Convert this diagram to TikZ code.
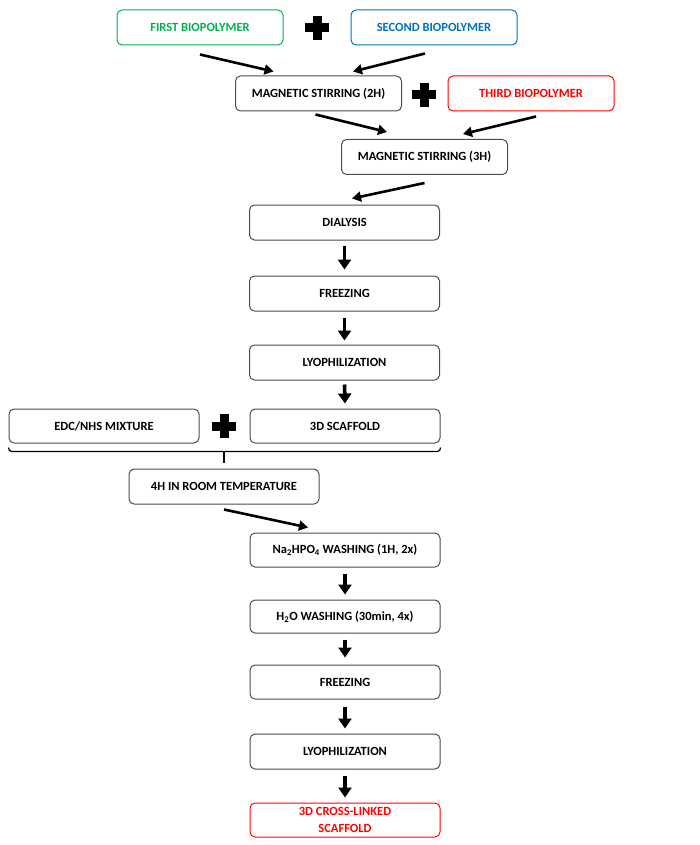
\documentclass[tikz,border=0pt]{standalone}
\usepackage{fontspec}
\setmainfont{Carlito}
\usetikzlibrary{positioning,arrows.meta}
\definecolor{bpgreen}{RGB}{0,176,80}
\definecolor{bpblue}{RGB}{0,112,192}
\definecolor{bpred}{RGB}{255,0,0}
\tikzset{
stepbox/.style={
  draw=black!70,
  line width=1pt,
  rounded corners=5pt,
  minimum width=190pt,
  minimum height=35pt,
  inner sep=2pt,
  align=center,
  font=\fontsize{12.5}{13}\selectfont\bfseries
  },
smallbox/.style={stepbox, minimum width=166pt},
plus/.style={
  minimum size=24pt,
  inner sep=0pt,
  path picture={
    \fill[black] ([xshift=-12pt,yshift=-4.5pt]path picture bounding box.center) rectangle ++(24pt,9pt);
    \fill[black] ([xshift=-4.5pt,yshift=-12pt]path picture bounding box.center) rectangle ++(9pt,24pt);
  }
  },
arr/.style={-{Triangle[length=9pt,width=10pt]}, line width=2.6pt},
darr/.style={-{Triangle[length=10pt,width=13pt]}, line width=3.6pt}
}
\begin{document}
\begin{tikzpicture}[x=1pt,y=-1pt]
\useasboundingbox (0,0) rectangle (699,845);

\node[smallbox, draw=bpgreen, text=bpgreen] (first) at (200,27.5) {FIRST BIOPOLYMER};
\node[plus] (plus1) at (317,28) {};
\node[smallbox, draw=bpblue, text=bpblue] (second) at (434,27.5) {SECOND BIOPOLYMER};

\node[smallbox] (stir2) at (318.5,93.5) {MAGNETIC STIRRING (2H)};
\node[plus] (plus2) at (424,95) {};
\node[smallbox, draw=bpred, text=bpred] (third) at (531,93.5) {THIRD BIOPOLYMER};

\node[smallbox] (stir3) at (424.5,157) {MAGNETIC STIRRING (3H)};

\node[stepbox] (dialysis) at (344.5,222.5) {DIALYSIS};
\node[stepbox] (freeze1) at (344.5,293.5) {FREEZING};
\node[stepbox] (lyo1) at (344.5,362.5) {LYOPHILIZATION};
\node[stepbox, minimum height=34pt] (scaffold) at (345,426) {3D SCAFFOLD};
\node[plus] (plus3) at (224,426) {};
\node[stepbox, minimum height=34pt] (edc) at (104,426) {EDC/NHS MIXTURE};

\node[stepbox] (temp) at (224,486.5) {4H IN ROOM TEMPERATURE};

\node[stepbox, minimum height=34pt] (wash1) at (345,550) {Na\textsubscript{2}HPO\textsubscript{4} WASHING (1H, 2x)};
\node[stepbox, minimum height=33pt] (wash2) at (345,616.5) {H\textsubscript{2}O WASHING (30min, 4x)};
\node[stepbox, minimum height=34pt] (freeze2) at (345,682) {FREEZING};
\node[stepbox] (lyo2) at (345,751.5) {LYOPHILIZATION};
\node[stepbox, minimum height=34pt, draw=bpred, text=bpred, inner sep=0pt,
  font=\fontsize{12.5}{16.5}\selectfont\bfseries] (final) at (345,820) {3D CROSS-LINKED\\SCAFFOLD};

% slanted arrows
\draw[arr]
  ([yshift=-9pt]first.south) -- ([xshift=-45pt,yshift=4pt]stir2.north);
\draw[arr]
  ([xshift=-9pt,yshift=-8pt]second.south) -- ([xshift=34.5pt,yshift=4pt]stir2.north);
\draw[arr]
  ([xshift=-3pt,yshift=-3pt]stir2.south) -- ([xshift=-37.5pt,yshift=7pt]stir3.north);
\draw[arr]
  ([xshift=5pt,yshift=-5pt]third.south) -- ([xshift=38.5pt,yshift=5pt]stir3.north);
\draw[arr]
  ([yshift=-8pt]stir3.south) -- ([xshift=7.5pt,yshift=6pt]dialysis.north);
\draw[arr]
  ([yshift=-5pt]temp.south) -- ([xshift=-37pt,yshift=5pt]wash1.north);

% straight arrows
\draw[darr] ([yshift=-5pt]dialysis.south) -- ([yshift=6pt]freeze1.north);
\draw[darr] ([yshift=-6pt]freeze1.south) -- ([yshift=4pt]lyo1.north);
\draw[darr] ([yshift=-4pt]lyo1.south) -- ([yshift=5pt]scaffold.north);
\draw[darr] ([yshift=-6pt]wash1.south) -- ([yshift=5pt]wash2.north);
\draw[darr] ([yshift=-6pt]wash2.south) -- ([yshift=7pt]freeze2.north);
\draw[darr] ([yshift=-7pt]freeze2.south) -- ([yshift=5pt]lyo2.north);
\draw[darr] ([yshift=-6pt]lyo2.south) -- ([yshift=5pt]final.north);

% bracket
\coordinate (bl) at ([yshift=-8pt]edc.south west);
\coordinate (br) at ([yshift=-8pt]scaffold.south east);
\coordinate (bm) at (224,451);
\draw[line width=1.2pt]
  ([yshift=4pt]bl) to[out=-90,in=180] ([xshift=3pt]bl) -- ([xshift=-3pt]br) to[out=0,in=-90] ([yshift=4pt]br);
\draw[line width=1.2pt] (bm) -- ([yshift=6pt]temp.north);

\end{tikzpicture}
\end{document}
